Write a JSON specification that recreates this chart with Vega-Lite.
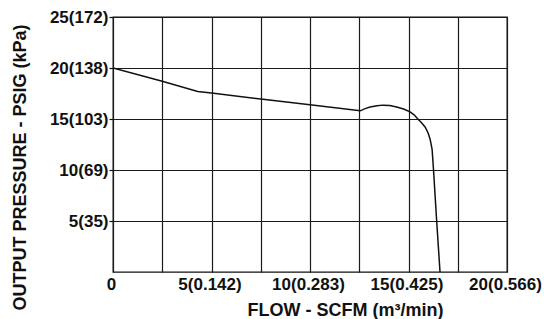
{
  "$schema": "https://vega.github.io/schema/vega-lite/v6.json",
  "autosize": {"type": "none"},
  "padding": {"left": 113, "top": 17, "right": 37, "bottom": 47},
  "width": 394,
  "height": 255,
  "background": "white",
  "config": {
    "view": {"stroke": "#111111", "strokeWidth": 1.3},
    "axis": {
      "labelFont": "Liberation Sans",
      "labelFontWeight": "bold",
      "labelFontSize": 17,
      "labelColor": "#111111",
      "titleFont": "Liberation Sans",
      "titleFontWeight": "bold",
      "titleFontSize": 18,
      "titleColor": "#111111",
      "gridColor": "#1a1a1a",
      "gridOpacity": 1,
      "gridWidth": 1.2,
      "domain": false
    }
  },
  "data": {
    "values": [
      {"flow": 0, "pressure": 20},
      {"flow": 2.5, "pressure": 18.7},
      {"flow": 4.3, "pressure": 17.7},
      {"flow": 5, "pressure": 17.55},
      {"flow": 7.5, "pressure": 16.95},
      {"flow": 10, "pressure": 16.4},
      {"flow": 12.55, "pressure": 15.8},
      {"flow": 12.8, "pressure": 16.02},
      {"flow": 13.05, "pressure": 16.18},
      {"flow": 13.4, "pressure": 16.3},
      {"flow": 13.7, "pressure": 16.36},
      {"flow": 14.05, "pressure": 16.32},
      {"flow": 14.4, "pressure": 16.18},
      {"flow": 14.75, "pressure": 15.98},
      {"flow": 15.08, "pressure": 15.7},
      {"flow": 15.3, "pressure": 15.38},
      {"flow": 15.45, "pressure": 15.05},
      {"flow": 15.65, "pressure": 14.65},
      {"flow": 15.85, "pressure": 14.2},
      {"flow": 16.0, "pressure": 13.6},
      {"flow": 16.1, "pressure": 13.0},
      {"flow": 16.2, "pressure": 12.0},
      {"flow": 16.27, "pressure": 10},
      {"flow": 16.43, "pressure": 5},
      {"flow": 16.6, "pressure": 0}
    ]
  },
  "mark": {"type": "line", "color": "#111111", "strokeWidth": 1.5, "clip": true},
  "encoding": {
    "x": {
      "field": "flow",
      "type": "quantitative",
      "scale": {"domain": [0, 20], "nice": false, "zero": false},
      "axis": {
        "values": [0, 2.5, 5, 7.5, 10, 12.5, 15, 17.5, 20],
        "labelExpr": "datum.value == 0 ? '0' : datum.value == 5 ? '5(0.142)' : datum.value == 10 ? '10(0.283)' : datum.value == 15 ? '15(0.425)' : datum.value == 20 ? '20(0.566)' : ''",
        "labelOverlap": false,
        "labelFlush": false,
        "labelBound": false,
        "labelAlign": "center",
        "labelBaseline": "alphabetic",
        "labelPadding": 17,
        "labelOffset": -2,
        "ticks": false,
        "grid": true,
        "title": "FLOW - SCFM (m³/min)",
        "titleX": 232,
        "titleY": 43,
        "titleAlign": "center",
        "titleBaseline": "alphabetic"
      }
    },
    "y": {
      "field": "pressure",
      "type": "quantitative",
      "scale": {"domain": [0, 25], "nice": false, "zero": false},
      "axis": {
        "values": [5, 10, 15, 20, 25],
        "labelExpr": "datum.value == 5 ? '5(35)' : datum.value == 10 ? '10(69)' : datum.value == 15 ? '15(103)' : datum.value == 20 ? '20(138)' : '25(172)'",
        "labelOverlap": false,
        "labelFlush": false,
        "labelBound": false,
        "labelBaseline": "middle",
        "labelPadding": 1,
        "ticks": true,
        "tickSize": 4,
        "tickColor": "#111111",
        "tickWidth": 1.2,
        "grid": true,
        "title": "OUTPUT PRESSURE - PSIG (kPa)",
        "titleAngle": -90,
        "titleX": -93,
        "titleY": 150,
        "titleAlign": "center",
        "titleBaseline": "middle"
      }
    }
  }
}
